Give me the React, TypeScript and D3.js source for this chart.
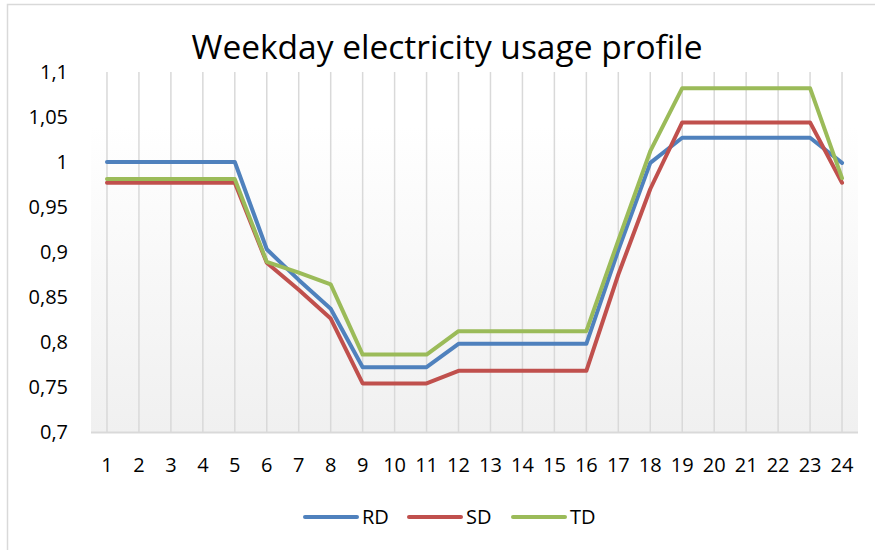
import React, { useEffect, useRef } from 'react';
import * as d3 from 'd3';

const hours = ['1', '2', '3', '4', '5', '6', '7', '8', '9', '10', '11', '12',
  '13', '14', '15', '16', '17', '18', '19', '20', '21', '22', '23', '24'];

const rd = [1, 1, 1, 1, 1, 0.903, 0.869, 0.837, 0.772, 0.772, 0.772, 0.798,
  0.798, 0.798, 0.798, 0.798, 0.902, 0.999, 1.027, 1.027, 1.027, 1.027, 1.027, 0.999];
const sd = [0.977, 0.977, 0.977, 0.977, 0.977, 0.888, 0.858, 0.826, 0.754, 0.754, 0.754, 0.768,
  0.768, 0.768, 0.768, 0.768, 0.875, 0.970, 1.044, 1.044, 1.044, 1.044, 1.044, 0.977];
const td = [0.981, 0.981, 0.981, 0.981, 0.981, 0.889, 0.877, 0.864, 0.786, 0.786, 0.786, 0.812,
  0.812, 0.812, 0.812, 0.812, 0.913, 1.012, 1.082, 1.082, 1.082, 1.082, 1.082, 0.982];

const seriesNames = ['RD', 'SD', 'TD'];
const seriesColors = ['#4f81bd', '#c0504d', '#9bbb59'];
const yTicks = [0.7, 0.75, 0.8, 0.85, 0.9, 0.95, 1, 1.05, 1.1];

const W = 875;
const H = 550;
const FONT = '"Open Sans", "Noto Sans", sans-serif';

export default function App() {
  const svgRef = useRef<SVGSVGElement>(null);

  useEffect(() => {
    document.body.style.margin = '0';
    if (!svgRef.current) return;
    const svg = d3.select(svgRef.current);
    svg.selectAll('*').remove();

    const plot = { left: 91, right: 858, top: 72, bottom: 432 };

    const x = d3.scaleBand<string>().domain(hours).range([plot.left, plot.right]);
    const cx = (h: string) => (x(h) as number) + x.bandwidth() / 2;
    const y = d3.scaleLinear().domain([0.7, 1.1]).range([plot.bottom, plot.top]);

    const locale = d3.formatLocale({ decimal: ',', thousands: '.', grouping: [3], currency: ['', ''] });
    const fmt = locale.format('.2~f');

    // chart border
    svg.append('rect')
      .attr('x', 7.5).attr('y', 4.5)
      .attr('width', W + 10).attr('height', H + 10)
      .attr('fill', '#fff')
      .attr('stroke', '#d9d9d9')
      .attr('stroke-width', 1.5);

    // plot background gradient
    const grad = svg.append('defs').append('linearGradient')
      .attr('id', 'plotbg').attr('x1', 0).attr('y1', 0).attr('x2', 0).attr('y2', 1);
    grad.append('stop').attr('offset', '0%').attr('stop-color', '#ffffff');
    grad.append('stop').attr('offset', '15%').attr('stop-color', '#ffffff');
    grad.append('stop').attr('offset', '100%').attr('stop-color', '#f0f0f0');

    svg.append('rect')
      .attr('x', plot.left).attr('y', plot.top)
      .attr('width', plot.right - plot.left).attr('height', plot.bottom - plot.top)
      .attr('fill', 'url(#plotbg)');

    // vertical gridlines
    svg.append('g')
      .selectAll('line')
      .data(hours)
      .enter()
      .append('line')
      .attr('x1', d => cx(d)).attr('x2', d => cx(d))
      .attr('y1', plot.top).attr('y2', plot.bottom)
      .attr('stroke', '#d9d9d9')
      .attr('stroke-width', 1.5);

    // x axis line
    svg.append('line')
      .attr('x1', plot.left).attr('x2', plot.right)
      .attr('y1', plot.bottom + 0.5).attr('y2', plot.bottom + 0.5)
      .attr('stroke', '#d9d9d9')
      .attr('stroke-width', 2);

    // y tick labels
    svg.append('g')
      .selectAll('text')
      .data(yTicks)
      .enter()
      .append('text')
      .attr('x', 68)
      .attr('y', d => y(d))
      .attr('dy', '0.36em')
      .attr('text-anchor', 'end')
      .attr('font-family', FONT)
      .attr('font-size', 20)
      .attr('fill', '#000')
      .text(d => fmt(d));

    // x tick labels
    svg.append('g')
      .selectAll('text')
      .data(hours)
      .enter()
      .append('text')
      .attr('x', d => cx(d))
      .attr('y', 465)
      .attr('dy', '0.36em')
      .attr('text-anchor', 'middle')
      .attr('font-family', FONT)
      .attr('font-size', 20)
      .attr('fill', '#000')
      .text(d => d);

    // series lines
    const line = d3.line<number>()
      .x((_, i) => cx(hours[i]))
      .y(d => y(d));

    [rd, sd, td].forEach((vals, i) => {
      svg.append('path')
        .datum(vals)
        .attr('d', line)
        .attr('fill', 'none')
        .attr('stroke', seriesColors[i])
        .attr('stroke-width', 4)
        .attr('stroke-linejoin', 'round')
        .attr('stroke-linecap', 'round');
    });

    // title
    svg.append('text')
      .attr('x', 447)
      .attr('y', 47)
      .attr('dy', '0.36em')
      .attr('text-anchor', 'middle')
      .attr('font-family', FONT)
      .attr('font-size', 33.5)
      .attr('fill', '#000')
      .text('Weekday electricity usage profile');

    // legend
    const legend = svg.append('g');
    seriesNames.forEach((name, i) => {
      const lx = 305 + i * 104;
      legend.append('line')
        .attr('x1', lx).attr('x2', lx + 52)
        .attr('y1', 517).attr('y2', 517)
        .attr('stroke', seriesColors[i])
        .attr('stroke-width', 4)
        .attr('stroke-linecap', 'round');
      legend.append('text')
        .attr('x', lx + 57)
        .attr('y', 517)
        .attr('dy', '0.36em')
        .attr('font-family', FONT)
        .attr('font-size', 20)
        .attr('fill', '#000')
        .text(name);
    });
  }, []);

  return (
    <svg
      ref={svgRef}
      width={W}
      height={H}
      style={{ position: 'absolute', left: 0, top: 0, display: 'block' }}
    />
  );
}
